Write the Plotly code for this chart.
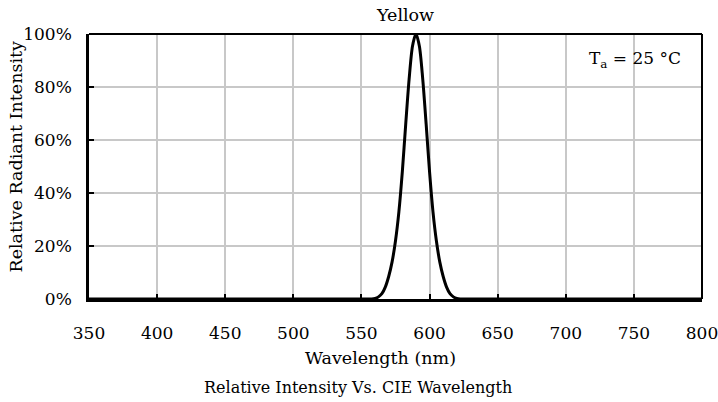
import plotly.graph_objects as go

wavelength = [350, 540, 555, 557.5, 560, 562.5, 565, 567.5, 570, 572.5, 575, 577.5, 580, 582.5,
              585, 587.5, 590, 592.5, 595, 597.5, 600, 602.5, 605, 607.5, 610, 612.5,
              615, 617.5, 620, 622.5, 625, 640, 800]
intensity = [0, 0, 0, 0.0, 0.002, 0.008, 0.02, 0.045, 0.085, 0.14, 0.22, 0.33, 0.48, 0.66,
             0.83, 0.955, 1.0, 0.955, 0.83, 0.66, 0.48, 0.33, 0.22, 0.14, 0.085, 0.045,
             0.02, 0.008, 0.002, 0.0, 0, 0, 0]

x_ticks = [350, 400, 450, 500, 550, 600, 650, 700, 750, 800]
y_ticks = [0, 0.2, 0.4, 0.6, 0.8, 1.0]
y_tick_labels = ["0%", "20%", "40%", "60%", "80%", "100%"]

FONT = "DejaVu Serif"
BLACK = "black"

fig = go.Figure()
fig.add_trace(go.Scatter(
    x=wavelength, y=intensity, mode="lines",
    line=dict(color=BLACK, width=3, shape="spline", smoothing=0.8),
    showlegend=False, hoverinfo="skip", cliponaxis=False))

fig.update_layout(
    width=718, height=402,
    margin=dict(l=89, r=16, t=34, b=103, autoexpand=False),
    paper_bgcolor="white", plot_bgcolor="white",
    font=dict(family=FONT, size=17, color=BLACK),
)

fig.update_xaxes(
    range=[350, 800], tickvals=x_ticks, ticktext=[str(v) for v in x_ticks],
    showgrid=True, gridcolor="#c8c8c8", gridwidth=1.5,
    showline=True, linecolor=BLACK, linewidth=2.5, mirror=False,
    ticks="inside", ticklen=5, tickcolor=BLACK, tickwidth=1.5,
    ticklabelstandoff=17, ticklabeloverflow="allow", automargin=False,
    tickfont=dict(family=FONT, size=17, color=BLACK),
    zeroline=False,
)
fig.update_yaxes(
    range=[0, 1.0], tickvals=y_ticks, ticktext=y_tick_labels,
    showgrid=True, gridcolor="#c8c8c8", gridwidth=1.5,
    showline=True, linecolor=BLACK, linewidth=2.5, mirror=False,
    ticks="inside", ticklen=5, tickcolor=BLACK, tickwidth=1.5,
    ticklabelstandoff=11, ticklabeloverflow="allow", automargin=False,
    tickfont=dict(family=FONT, size=17, color=BLACK),
    zeroline=False,
)

# top and right frame lines of the plot area
fig.add_shape(type="line", xref="paper", yref="paper", x0=0, x1=1, y0=1, y1=1,
              line=dict(color=BLACK, width=2), layer="above")
fig.add_shape(type="line", xref="paper", yref="paper", x0=1, x1=1, y0=0, y1=1,
              line=dict(color=BLACK, width=2), layer="above")

def note(text, x, y, size, angle=0):
    fig.add_annotation(text=text, xref="paper", yref="paper", x=x, y=y,
                       xanchor="center", yanchor="middle", showarrow=False,
                       textangle=angle, font=dict(family=FONT, size=size, color=BLACK))

note("Yellow", 0.5155, 1.0717, 17.5)
note("T<sub>a</sub> = 25 °C", 0.8907, 0.902, 17)
note("Wavelength (nm)", 0.4755, -0.2208, 17.5)
note("Relative Radiant Intensity", -0.1207, 0.5377, 17.5, angle=-90)
note("Relative Intensity Vs. CIE Wavelength", 0.4396, -0.334, 16)

fig.write_html(
    "out.html",
    config={"displayModeBar": False},
    post_script="document.documentElement.style.overflow='hidden';document.body.style.margin='0';document.body.style.overflow='hidden';",
)
